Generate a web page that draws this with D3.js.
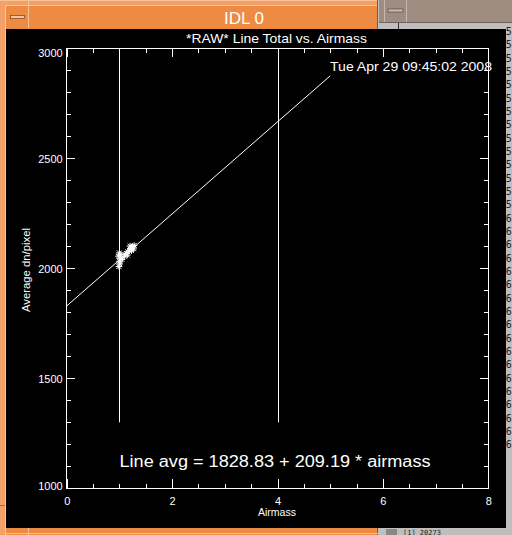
<!DOCTYPE html>
<html><head><meta charset="utf-8">
<script src="https://cdn.jsdelivr.net/npm/d3@7"></script>
<style>html,body{margin:0;padding:0;background:#bebebe;overflow:hidden}svg{display:block}</style>
</head><body><svg id="c" width="512" height="535"></svg>
<script>
// ---- data ----
const airmass   = [0.99, 1.01, 1.00, 1.02, 0.98, 1.03, 1.00, 1.10, 1.13, 1.16, 1.19, 1.22, 1.25, 1.20, 1.27, 1.15, 1.28, 1.05, 1.23];
const lineTotal = [2008, 2020, 2032, 2045, 2055, 2062, 2070, 2055, 2068, 2075, 2082, 2090, 2098, 2101, 2088, 2060, 2104, 2040, 2080];
const fitIntercept = 1828.83;
const fitSlope = 209.19;
const fitAirmass = [0, 5];
const markerAirmass = [1, 4];
const markerLevels = [1300, 3000];
const xMajorTicks = [0, 2, 4, 6, 8];
const xMinorTicks = [0.5, 1, 1.5, 2.5, 3, 3.5, 4.5, 5, 5.5, 6.5, 7, 7.5];
const yMajorTicks = [1000, 1500, 2000, 2500, 3000];
const yMinorTicks = [1100, 1200, 1300, 1400, 1600, 1700, 1800, 1900, 2100, 2200, 2300, 2400, 2600, 2700, 2800, 2900];
const titleText = "*RAW* Line Total vs. Airmass";
const dateText = "Tue Apr 29 09:45:02 2008";
const fitText = "Line avg = 1828.83 + 209.19 * airmass";
const xLabel = "Airmass";
const yLabel = "Average dn/pixel";
const sideDigits = ["5","5","5","5","5","5","5","5","5","5","5","5","5","5","6","6","6","6","6","6","6","6","6","6","6","6","6","6","6","6","6","6"];

const svg = d3.select("#c");
const FONT = "'Liberation Sans', Arial, sans-serif";

// ---- window chrome ----
svg.append("rect").attr("x",378).attr("y",0).attr("width",134).attr("height",535).attr("fill","#bebebe");
svg.append("rect").attr("x",379).attr("y",0).attr("width",133).attr("height",22).attr("fill","#9e8c80");
svg.append("line").attr("x1",384.5).attr("x2",384.5).attr("y1",0).attr("y2",22).attr("stroke","#c6b8ae");
svg.append("line").attr("x1",406.5).attr("x2",406.5).attr("y1",0).attr("y2",22).attr("stroke","#c6b8ae");
svg.append("line").attr("x1",379).attr("x2",512).attr("y1",22.5).attr("y2",22.5).attr("stroke","#6f625a");
svg.append("rect").attr("x",388).attr("y",9).attr("width",15).attr("height",3).attr("fill","#c9bcb2").attr("stroke","#5e524b").attr("stroke-width",0.8);
svg.append("line").attr("x1",398.5).attr("x2",398.5).attr("y1",23).attr("y2",29).attr("stroke","#333");
svg.selectAll("text.side").data(sideDigits).join("text").attr("class","side")
  .attr("x",505.8).attr("y",(d,i)=>35+i*13.33).attr("fill","#222")
  .attr("font-family","'DejaVu Sans Mono', monospace").attr("font-size",10).text(d=>d);
svg.append("rect").attr("x",386).attr("y",529).attr("width",11).attr("height",6).attr("fill","#888");
svg.append("text").attr("x",403).attr("y",534.5).attr("fill","#222").attr("font-family","'DejaVu Sans Mono', monospace").attr("font-size",7).text("[1] 20273");

// orange window
svg.append("rect").attr("x",0).attr("y",0).attr("width",378).attr("height",535).attr("fill","#ee8b43");
svg.append("rect").attr("x",0).attr("y",0).attr("width",378).attr("height",5).attr("fill","#f3a168");
svg.append("rect").attr("x",0).attr("y",0).attr("width",5).attr("height",535).attr("fill","#f3a168");
svg.append("line").attr("x1",0).attr("x2",378).attr("y1",0.5).attr("y2",0.5).attr("stroke","#f9c39a");
svg.append("line").attr("x1",5.5).attr("x2",378).attr("y1",5.5).attr("y2",5.5).attr("stroke","#f9c39a");
svg.append("line").attr("x1",5.5).attr("x2",5.5).attr("y1",5).attr("y2",535).attr("stroke","#f9c39a");
svg.append("line").attr("x1",28.5).attr("x2",28.5).attr("y1",0).attr("y2",28).attr("stroke","#f9c39a");
svg.append("line").attr("x1",28.5).attr("x2",28.5).attr("y1",528).attr("y2",535).attr("stroke","#f9c39a");
svg.append("line").attr("x1",0).attr("x2",5).attr("y1",505.5).attr("y2",505.5).attr("stroke","#b8642a");
svg.append("line").attr("x1",377.5).attr("x2",377.5).attr("y1",0).attr("y2",535).attr("stroke","#7a5a44");
svg.append("rect").attr("x",10.5).attr("y",15.5).attr("width",14).attr("height",3).attr("fill","#f9c39a").attr("stroke","#8a4a1e").attr("stroke-width",0.8);
svg.append("text").attr("x",244).attr("y",24).attr("text-anchor","middle").attr("fill","#fff")
  .attr("font-family",FONT).attr("font-size",17).text("IDL 0");
svg.append("line").attr("x1",6).attr("x2",378).attr("y1",533.5).attr("y2",533.5).attr("stroke","#f9c39a");

// black drawing canvas
svg.append("rect").attr("x",6).attr("y",29).attr("width",500).attr("height",499).attr("fill","#000");

// ---- plot ----
const L = 66.7, R = 488.3, T = 48.3, B = 488.3;
const x = d3.scaleLinear().domain([0, 8]).range([L, R]);
const y = d3.scaleLinear().domain([1000, 3000]).range([B, T]);
const g = svg.append("g");
const majX = 8.8, minX = 4.4, majY = 8.4, minY = 4.2;

function style(sel){
  sel.select(".domain").remove();
  sel.selectAll("line").attr("stroke","#fff").attr("stroke-width",1).attr("shape-rendering","crispEdges");
  sel.selectAll("text").attr("fill","#fff").attr("font-family",FONT).attr("font-size",11);
}
g.append("rect").attr("x",L).attr("y",T).attr("width",R-L).attr("height",B-T)
  .attr("fill","none").attr("stroke","#fff").attr("shape-rendering","crispEdges");

g.append("g").attr("transform",`translate(0,${B})`)
  .call(d3.axisBottom(x).tickValues(xMajorTicks).tickSize(-majX).tickPadding(9).tickFormat(d3.format("d"))).call(style);
g.append("g").attr("transform",`translate(0,${B})`)
  .call(d3.axisBottom(x).tickValues(xMinorTicks).tickSize(-minX).tickFormat("")).call(style);
g.append("g").attr("transform",`translate(0,${T})`)
  .call(d3.axisTop(x).tickValues(xMajorTicks).tickSize(-majX).tickFormat("")).call(style);
g.append("g").attr("transform",`translate(0,${T})`)
  .call(d3.axisTop(x).tickValues(xMinorTicks).tickSize(-minX).tickFormat("")).call(style);
const yMin = d3.min(yMajorTicks), yMax = d3.max(yMajorTicks);
g.append("g").attr("transform",`translate(${L},0)`)
  .call(d3.axisLeft(y).tickValues(yMajorTicks).tickSize(-majY).tickPadding(4).tickFormat(d3.format("d"))).call(style)
  .selectAll("text").attr("dy",null).attr("y",d => d===yMax ? 7.7 : (d===yMin ? 1 : 4.4));
g.append("g").attr("transform",`translate(${L},0)`)
  .call(d3.axisLeft(y).tickValues(yMinorTicks).tickSize(-minY).tickFormat("")).call(style);
g.append("g").attr("transform",`translate(${R},0)`)
  .call(d3.axisRight(y).tickValues(yMajorTicks).tickSize(-majY).tickFormat("")).call(style);
g.append("g").attr("transform",`translate(${R},0)`)
  .call(d3.axisRight(y).tickValues(yMinorTicks).tickSize(-minY).tickFormat("")).call(style);

g.selectAll("line.marker").data(markerAirmass).join("line").attr("class","marker")
  .attr("x1",d=>Math.round(x(d))+0.5).attr("x2",d=>Math.round(x(d))+0.5)
  .attr("y1",y(markerLevels[0])).attr("y2",y(markerLevels[1]))
  .attr("stroke","#fff").attr("stroke-width",1);

g.append("path").datum(fitAirmass)
  .attr("d", d3.line().x(d=>x(d)).y(d=>y(fitIntercept + fitSlope*d)))
  .attr("stroke","#fff").attr("stroke-width",1).attr("fill","none");

const r = 3.2;
const star = `M${-r},0H${r}M0,${-r}V${r}M${-r*0.75},${-r*0.75}L${r*0.75},${r*0.75}M${-r*0.75},${r*0.75}L${r*0.75},${-r*0.75}`;
g.selectAll("path.pt").data(airmass.map((a,i)=>[a,lineTotal[i]])).join("path").attr("class","pt")
  .attr("transform",d=>`translate(${x(d[0])},${y(d[1])})`)
  .attr("d",star).attr("stroke","#fff").attr("stroke-width",1).attr("fill","none");

g.append("text").attr("x",186).attr("y",42.7).attr("fill","#fff").attr("font-family",FONT)
  .attr("font-size",13).attr("textLength",181).attr("lengthAdjust","spacingAndGlyphs").text(titleText);
g.append("text").attr("x",330).attr("y",70.7).attr("fill","#fff").attr("font-family",FONT)
  .attr("font-size",12).attr("textLength",162).attr("lengthAdjust","spacingAndGlyphs").text(dateText);
g.append("text").attr("x",119.5).attr("y",467).attr("fill","#fff").attr("font-family",FONT)
  .attr("font-size",16).attr("textLength",311).attr("lengthAdjust","spacingAndGlyphs").text(fitText);
g.append("text").attr("x",258).attr("y",516).attr("fill","#fff").attr("font-family",FONT)
  .attr("font-size",10.5).attr("textLength",38).attr("lengthAdjust","spacingAndGlyphs").text(xLabel);
g.append("text").attr("transform","translate(30,312) rotate(-90)").attr("x",0).attr("y",0)
  .attr("fill","#fff").attr("font-family",FONT).attr("font-size",10.5)
  .attr("textLength",84).attr("lengthAdjust","spacingAndGlyphs").text(yLabel);
</script></body></html>
